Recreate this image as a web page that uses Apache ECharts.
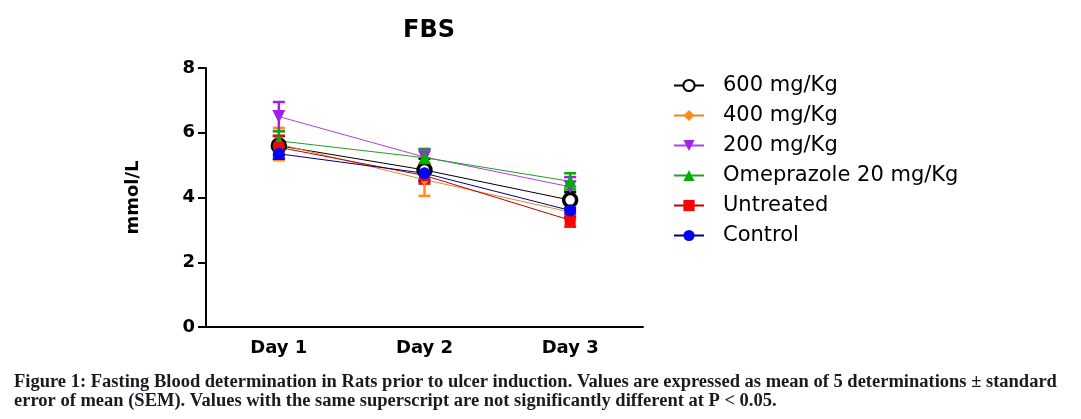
<!DOCTYPE html>
<html><head><meta charset="utf-8">
<script src="https://cdn.jsdelivr.net/npm/echarts@6/dist/echarts.min.js"></script>
<style>html,body{margin:0;padding:0;background:#fff}#c{width:1081px;height:419px}</style>
</head><body><div id="c"></div>
<script>
const categories = ['Day 1', 'Day 2', 'Day 3'];
const seriesNames = ['600 mg/Kg', '400 mg/Kg', '200 mg/Kg', 'Omeprazole 20 mg/Kg', 'Untreated', 'Control'];
const mean600 = [5.6, 4.85, 3.92];
const sem600 = [0.3, 0.35, 0.25];
const mean400 = [5.65, 4.55, 3.55];
const sem400 = [0.5, 0.5, 0.25];
const mean200 = [6.5, 5.25, 4.33];
const sem200 = [0.45, 0.25, 0.3];
const meanOme = [5.75, 5.23, 4.5];
const semOme = [0.3, 0.25, 0.25];
const meanUnt = [5.55, 4.68, 3.3];
const semUnt = [0.35, 0.25, 0.2];
const meanCtl = [5.35, 4.75, 3.6];
const semCtl = [0.15, 0.2, 0.2];
const yTicks = [0, 2, 4, 6, 8];
const captionLines = [
  'Figure 1: Fasting Blood determination in Rats prior to ulcer induction. Values are expressed as mean of 5 determinations \u00b1 standard',
  'error of mean (SEM). Values with the same superscript are not significantly different at P < 0.05.'
];

const means = [mean600, mean400, mean200, meanOme, meanUnt, meanCtl];
const sems = [sem600, sem400, sem200, semOme, semUnt, semCtl];
const markerColors = ['#000000', '#FF8C1A', '#A020F0', '#00B000', '#FF0000', '#0000FF'];
const lineColors = ['#000000', '#E08A2A', '#B040E0', '#20A020', '#C00000', '#000080'];
const symbols = ['circle', 'diamond', 'triangle', 'triangle', 'rect', 'circle'];
const rotates = [0, 0, 180, 0, 0, 0];
const sizes = [13, 11, 13, 13, 11, 12];
const SANS = 'DejaVu Sans';

const series = [];
seriesNames.forEach((name, i) => {
  series.push({
    name: 'err_' + i,
    type: 'custom',
    silent: true,
    z: 2,
    data: means[i].map((m, k) => [k, m, sems[i][k]]),
    renderItem: function (params, api) {
      const x = api.value(0), m = api.value(1), s = api.value(2);
      const top = api.coord([x, m + s]);
      const bot = api.coord([x, m - s]);
      const hw = 6;
      const st = {stroke: markerColors[i], lineWidth: 2.5, fill: null};
      return {type: 'group', children: [
        {type: 'line', shape: {x1: top[0], y1: top[1], x2: bot[0], y2: bot[1]}, style: st},
        {type: 'line', shape: {x1: top[0] - hw, y1: top[1], x2: top[0] + hw, y2: top[1]}, style: st},
        {type: 'line', shape: {x1: bot[0] - hw, y1: bot[1], x2: bot[0] + hw, y2: bot[1]}, style: st}
      ]};
    }
  });
  series.push({
    name: name,
    type: 'line',
    z: 3,
    data: means[i],
    symbol: symbols[i],
    symbolRotate: rotates[i],
    symbolSize: sizes[i],
    showAllSymbol: true,
    lineStyle: {color: lineColors[i], width: 1},
    itemStyle: i === 0
      ? {color: '#ffffff', borderColor: '#000000', borderWidth: 3.5}
      : {color: markerColors[i], borderColor: markerColors[i], borderWidth: 0},
    emphasis: {disabled: true},
    animation: false
  });
});

const chart = echarts.init(document.getElementById('c'));
chart.setOption({
  animation: false,
  backgroundColor: '#ffffff',
  title: {
    text: 'FBS', left: 424, top: 14, textAlign: 'center',
    textStyle: {fontFamily: SANS, fontWeight: 'bold', fontSize: 24, color: '#000'}
  },
  legend: {
    orient: 'vertical', left: 668, top: 70, itemGap: 9,
    itemWidth: 30, itemHeight: 14,
    data: seriesNames.map(n => ({name: n})),
    textStyle: {fontFamily: SANS, fontSize: 21, color: '#000', padding: [0, 0, 0, 14]}
  },
  grid: {left: 206, top: 68, right: 438, bottom: 92, containLabel: false},
  xAxis: {
    type: 'category', data: categories, boundaryGap: true,
    axisLine: {lineStyle: {color: '#000', width: 2}},
    axisTick: {alignWithLabel: true, length: 7, lineStyle: {color: '#000', width: 2}},
    axisLabel: {fontFamily: SANS, fontWeight: 'bold', fontSize: 18, color: '#000', margin: 12},
    splitLine: {show: false}
  },
  yAxis: {
    type: 'value', min: yTicks[0], max: yTicks[yTicks.length - 1], interval: 2,
    name: 'mmol/L', nameLocation: 'middle', nameGap: 64, nameRotate: 90,
    nameTextStyle: {fontFamily: SANS, fontWeight: 'bold', fontSize: 18, color: '#000'},
    axisLine: {show: true, lineStyle: {color: '#000', width: 2}},
    axisTick: {show: true, length: 8, lineStyle: {color: '#000', width: 2}},
    axisLabel: {fontFamily: SANS, fontWeight: 'bold', fontSize: 18, color: '#000', margin: 11},
    splitLine: {show: false}
  },
  graphic: captionLines.map((t, k) => ({
    type: 'text', left: 14, top: 373 + k * 19,
    style: {text: t, fontFamily: 'Liberation Serif', fontWeight: 'bold', fontSize: 18.5, fill: '#1a1a22'}
  })),
  series: series
});
</script></body></html>
